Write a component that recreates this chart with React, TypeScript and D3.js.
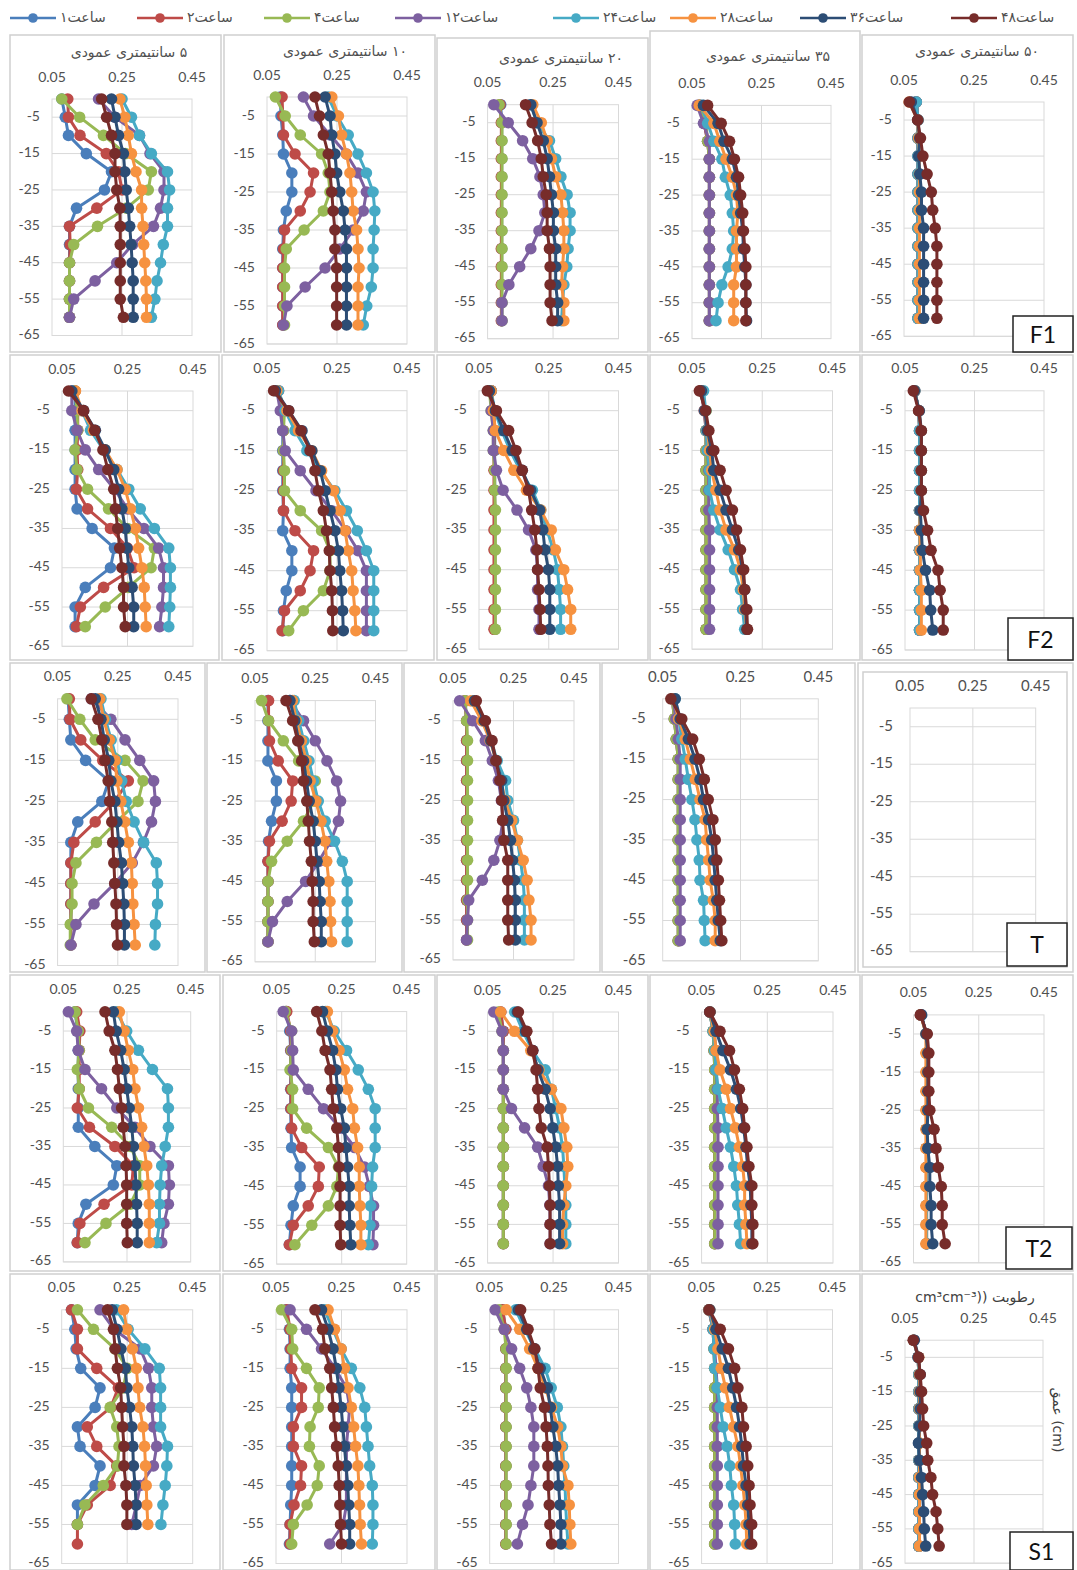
import { line, scaleLinear } from "d3";

// depth of each reading (cm), shared by every panel
const depths = [0, -5, -10, -15, -20, -25, -30, -35, -40, -45, -50, -55, -60];
const xTicks = [0.05, 0.25, 0.45];
const yTicks = [-5, -15, -25, -35, -45, -55, -65];

const seriesLabels = ["۱", "۲", "۴", "۱۲", "۲۴", "۲۸", "۳۶", "۴۸"];
const seriesColors = ["#4a7ebb", "#be4b48", "#98b954", "#7d60a0", "#46aac5", "#f69240", "#2c4d75", "#772c2a"];

type Series = (number | null)[];

// ---- F1 ----
const f1Cm5: Series[] = [
  [0.078, 0.088, 0.097, 0.148, 0.22, 0.2, 0.12, 0.1, 0.1, 0.1, 0.1, 0.1, 0.1],
  [0.095, 0.097, 0.13, 0.205, 0.24, 0.25, 0.178, 0.1, 0.102, 0.1, 0.1, 0.1, 0.1],
  [0.078, 0.129, 0.197, 0.26, 0.334, 0.325, 0.263, 0.18, 0.112, 0.1, 0.1, 0.1, 0.1],
  [0.183, 0.23, 0.3, 0.33, 0.37, 0.37, 0.36, 0.34, 0.28, 0.235, 0.173, 0.112, 0.1],
  [0.25, 0.277, 0.3, 0.334, 0.38, 0.386, 0.38, 0.38, 0.368, 0.36, 0.35, 0.344, 0.334],
  [0.244, 0.258, 0.268, 0.277, 0.29, 0.306, 0.306, 0.31, 0.312, 0.315, 0.318, 0.32, 0.32],
  [0.22, 0.23, 0.24, 0.254, 0.258, 0.262, 0.268, 0.272, 0.276, 0.279, 0.282, 0.282, 0.282],
  [0.192, 0.206, 0.22, 0.23, 0.23, 0.235, 0.244, 0.245, 0.245, 0.245, 0.245, 0.245, 0.254],
];
const f1Cm10: Series[] = [
  [0.088, 0.09, 0.095, 0.097, 0.121, 0.121, 0.105, 0.097, 0.095, 0.095, 0.095, 0.095, 0.095],
  [0.093, 0.095, 0.097, 0.13, 0.183, 0.173, 0.145, 0.1, 0.097, 0.095, 0.095, 0.095, 0.095],
  [0.074, 0.102, 0.145, 0.206, 0.225, 0.23, 0.211, 0.156, 0.105, 0.1, 0.1, 0.1, 0.1],
  [0.154, 0.183, 0.23, 0.277, 0.31, 0.334, 0.325, 0.296, 0.258, 0.216, 0.159, 0.107, 0.097],
  [0.225, 0.25, 0.282, 0.31, 0.334, 0.353, 0.358, 0.356, 0.353, 0.353, 0.348, 0.335, 0.325],
  [0.235, 0.254, 0.263, 0.277, 0.287, 0.292, 0.296, 0.306, 0.31, 0.313, 0.31, 0.31, 0.31],
  [0.216, 0.23, 0.235, 0.244, 0.249, 0.258, 0.268, 0.273, 0.277, 0.277, 0.277, 0.277, 0.277],
  [0.187, 0.2, 0.211, 0.225, 0.23, 0.235, 0.239, 0.244, 0.244, 0.249, 0.249, 0.249, 0.249],
];
const f1Cm20: Series[] = [
  [0.09, 0.093, 0.093, 0.093, 0.093, 0.093, 0.093, 0.093, 0.093, 0.093, 0.093, 0.093, 0.093],
  [0.088, 0.092, 0.092, 0.092, 0.092, 0.092, 0.092, 0.092, 0.092, 0.092, 0.092, 0.092, 0.092],
  [0.085, 0.094, 0.094, 0.094, 0.094, 0.094, 0.094, 0.094, 0.094, 0.094, 0.094, 0.094, 0.094],
  [0.069, 0.113, 0.157, 0.188, 0.21, 0.22, 0.225, 0.207, 0.182, 0.148, 0.115, 0.094, 0.094],
  [0.182, 0.201, 0.239, 0.258, 0.274, 0.293, 0.302, 0.302, 0.296, 0.292, 0.283, 0.279, 0.276],
  [0.188, 0.214, 0.232, 0.245, 0.258, 0.274, 0.279, 0.283, 0.283, 0.279, 0.276, 0.283, 0.283],
  [0.182, 0.201, 0.22, 0.232, 0.239, 0.245, 0.251, 0.251, 0.258, 0.258, 0.258, 0.264, 0.264],
  [0.166, 0.186, 0.203, 0.214, 0.22, 0.229, 0.232, 0.232, 0.239, 0.241, 0.241, 0.241, 0.247],
];
const f1Cm35: Series[] = [
  [0.072, 0.085, 0.095, 0.1, 0.1, 0.1, 0.1, 0.1, 0.1, 0.1, 0.1, 0.1, 0.1],
  [0.072, 0.085, 0.095, 0.1, 0.1, 0.1, 0.1, 0.1, 0.1, 0.1, 0.1, 0.1, 0.1],
  [0.07, 0.09, 0.095, 0.1, 0.1, 0.1, 0.1, 0.1, 0.1, 0.1, 0.1, 0.1, 0.1],
  [0.065, 0.083, 0.1, 0.1, 0.1, 0.1, 0.1, 0.1, 0.1, 0.1, 0.1, 0.1, 0.1],
  [0.077, 0.095, 0.113, 0.136, 0.146, 0.16, 0.166, 0.17, 0.166, 0.154, 0.136, 0.125, 0.119],
  [0.071, 0.113, 0.13, 0.148, 0.166, 0.178, 0.182, 0.178, 0.178, 0.178, 0.17, 0.17, 0.17],
  [0.083, 0.125, 0.142, 0.166, 0.178, 0.184, 0.19, 0.196, 0.198, 0.202, 0.205, 0.205, 0.207],
  [0.095, 0.134, 0.158, 0.172, 0.184, 0.19, 0.196, 0.198, 0.202, 0.205, 0.205, 0.205, 0.205],
];
const f1Cm50: Series[] = [
  [0.085, 0.09, 0.09, 0.09, 0.09, 0.09, 0.09, 0.09, 0.09, 0.09, 0.09, 0.09, 0.09],
  [0.085, 0.09, 0.09, 0.09, 0.09, 0.09, 0.09, 0.09, 0.09, 0.09, 0.09, 0.09, 0.09],
  [0.085, 0.09, 0.09, 0.09, 0.09, 0.09, 0.09, 0.09, 0.09, 0.09, 0.09, 0.09, 0.09],
  [0.085, 0.09, 0.09, 0.09, 0.09, 0.09, 0.09, 0.09, 0.09, 0.09, 0.09, 0.09, 0.09],
  [0.085, 0.09, 0.09, 0.09, 0.09, 0.09, 0.09, 0.09, 0.09, 0.09, 0.09, 0.09, 0.09],
  [0.065, 0.089, 0.092, 0.094, 0.094, 0.094, 0.094, 0.094, 0.094, 0.094, 0.094, 0.094, 0.094],
  [0.071, 0.089, 0.095, 0.092, 0.095, 0.1, 0.1, 0.106, 0.106, 0.106, 0.106, 0.106, 0.106],
  [0.065, 0.089, 0.097, 0.104, 0.116, 0.128, 0.132, 0.139, 0.144, 0.144, 0.144, 0.144, 0.144],
];

// ---- F2 ----
const f2Cm5: Series[] = [
  [0.09, 0.09, 0.09, 0.09, 0.09, 0.09, 0.096, 0.142, 0.21, 0.198, 0.121, 0.09, 0.09],
  [0.09, 0.098, 0.098, 0.096, 0.098, 0.094, 0.128, 0.198, 0.25, 0.27, 0.177, 0.106, 0.094],
  [0.09, 0.096, 0.098, 0.09, 0.096, 0.128, 0.192, 0.25, 0.332, 0.322, 0.253, 0.182, 0.121],
  [0.08, 0.08, 0.096, 0.121, 0.162, 0.21, 0.25, 0.3, 0.345, 0.36, 0.36, 0.355, 0.348],
  [0.086, 0.111, 0.137, 0.177, 0.218, 0.254, 0.289, 0.332, 0.376, 0.381, 0.381, 0.379, 0.376],
  [0.091, 0.111, 0.146, 0.182, 0.218, 0.243, 0.259, 0.274, 0.284, 0.294, 0.301, 0.304, 0.307],
  [0.08, 0.116, 0.152, 0.182, 0.208, 0.223, 0.233, 0.243, 0.248, 0.254, 0.264, 0.269, 0.269],
  [0.07, 0.116, 0.15, 0.175, 0.19, 0.208, 0.213, 0.22, 0.226, 0.233, 0.238, 0.238, 0.243],
];
const f2Cm10: Series[] = [
  [0.078, 0.093, 0.095, 0.095, 0.095, 0.095, 0.097, 0.095, 0.121, 0.121, 0.105, 0.097, 0.095],
  [0.083, 0.097, 0.097, 0.097, 0.097, 0.097, 0.097, 0.13, 0.183, 0.173, 0.145, 0.1, 0.093],
  [0.078, 0.1, 0.097, 0.097, 0.1, 0.1, 0.145, 0.206, 0.23, 0.23, 0.211, 0.154, 0.112],
  [0.078, 0.088, 0.095, 0.102, 0.145, 0.19, 0.235, 0.275, 0.31, 0.334, 0.334, 0.334, 0.334],
  [0.083, 0.102, 0.13, 0.164, 0.202, 0.244, 0.277, 0.308, 0.334, 0.355, 0.355, 0.355, 0.355],
  [0.078, 0.107, 0.14, 0.178, 0.206, 0.24, 0.259, 0.273, 0.282, 0.292, 0.296, 0.301, 0.304],
  [0.074, 0.112, 0.15, 0.178, 0.202, 0.216, 0.23, 0.244, 0.254, 0.258, 0.263, 0.266, 0.268],
  [0.069, 0.112, 0.147, 0.173, 0.187, 0.197, 0.211, 0.22, 0.228, 0.23, 0.235, 0.237, 0.238],
];
const f2Cm20: Series[] = [
  [0.085, 0.093, 0.095, 0.095, 0.095, 0.095, 0.095, 0.095, 0.095, 0.095, 0.095, 0.095, 0.095],
  [0.085, 0.092, 0.093, 0.093, 0.093, 0.093, 0.093, 0.093, 0.093, 0.093, 0.093, 0.093, 0.093],
  [0.08, 0.085, 0.091, 0.091, 0.095, 0.095, 0.097, 0.097, 0.097, 0.097, 0.097, 0.097, 0.097],
  [0.085, 0.085, 0.091, 0.091, 0.1, 0.119, 0.159, 0.192, 0.213, 0.218, 0.218, 0.222, 0.222],
  [0.085, 0.095, 0.115, 0.139, 0.168, 0.203, 0.227, 0.245, 0.263, 0.275, 0.28, 0.284, 0.284],
  [0.085, 0.091, 0.097, 0.121, 0.15, 0.186, 0.227, 0.257, 0.269, 0.293, 0.304, 0.313, 0.313],
  [0.08, 0.097, 0.121, 0.145, 0.174, 0.198, 0.224, 0.233, 0.239, 0.249, 0.253, 0.253, 0.253],
  [0.074, 0.1, 0.135, 0.156, 0.174, 0.192, 0.201, 0.21, 0.216, 0.218, 0.222, 0.225, 0.227],
];
const f2Cm35: Series[] = [
  [0.075, 0.085, 0.09, 0.09, 0.09, 0.09, 0.09, 0.09, 0.09, 0.09, 0.09, 0.09, 0.09],
  [0.075, 0.085, 0.09, 0.09, 0.09, 0.09, 0.09, 0.09, 0.09, 0.09, 0.09, 0.09, 0.09],
  [0.075, 0.09, 0.09, 0.09, 0.09, 0.09, 0.09, 0.09, 0.09, 0.09, 0.09, 0.09, 0.09],
  [0.077, 0.086, 0.091, 0.094, 0.098, 0.098, 0.098, 0.1, 0.1, 0.1, 0.1, 0.1, 0.1],
  [0.083, 0.089, 0.091, 0.094, 0.1, 0.1, 0.112, 0.13, 0.153, 0.171, 0.188, 0.194, 0.2],
  [0.077, 0.086, 0.094, 0.1, 0.106, 0.118, 0.13, 0.147, 0.171, 0.188, 0.196, 0.2, 0.206],
  [0.077, 0.086, 0.094, 0.106, 0.112, 0.13, 0.147, 0.165, 0.183, 0.194, 0.2, 0.203, 0.206],
  [0.071, 0.089, 0.098, 0.112, 0.13, 0.147, 0.165, 0.177, 0.188, 0.197, 0.2, 0.206, 0.208],
];
const f2Cm50: Series[] = [
  [0.078, 0.09, 0.092, 0.092, 0.092, 0.092, 0.092, 0.092, 0.092, 0.092, 0.092, 0.092, 0.092],
  [0.078, 0.09, 0.092, 0.092, 0.092, 0.092, 0.092, 0.092, 0.092, 0.092, 0.092, 0.092, 0.092],
  [0.078, 0.09, 0.092, 0.092, 0.092, 0.092, 0.092, 0.092, 0.092, 0.092, 0.092, 0.092, 0.092],
  [0.078, 0.09, 0.092, 0.092, 0.092, 0.092, 0.092, 0.092, 0.092, 0.092, 0.092, 0.092, 0.092],
  [0.078, 0.09, 0.092, 0.092, 0.092, 0.092, 0.092, 0.092, 0.092, 0.092, 0.092, 0.092, 0.092],
  [0.077, 0.09, 0.097, 0.097, 0.097, 0.097, 0.094, 0.092, 0.094, 0.094, 0.097, 0.097, 0.097],
  [0.077, 0.091, 0.097, 0.097, 0.097, 0.097, 0.094, 0.097, 0.1, 0.109, 0.121, 0.124, 0.13],
  [0.074, 0.089, 0.097, 0.097, 0.097, 0.097, 0.103, 0.115, 0.125, 0.145, 0.151, 0.16, 0.16],
];

// ---- T ----
const tCm5: Series[] = [
  [0.085, 0.089, 0.094, 0.143, 0.22, 0.197, 0.117, 0.094, 0.094, 0.094, 0.094, 0.094, 0.094],
  [0.089, 0.091, 0.127, 0.2, 0.285, 0.24, 0.175, 0.104, 0.094, 0.094, 0.094, 0.094, 0.094],
  [0.081, 0.124, 0.175, 0.274, 0.334, 0.317, 0.246, 0.179, 0.111, 0.098, 0.098, 0.092, 0.092],
  [0.162, 0.227, 0.274, 0.323, 0.369, 0.375, 0.362, 0.335, 0.298, 0.24, 0.171, 0.111, 0.094],
  [0.194, 0.209, 0.228, 0.247, 0.263, 0.278, 0.304, 0.336, 0.378, 0.382, 0.382, 0.375, 0.373],
  [0.19, 0.203, 0.222, 0.241, 0.247, 0.26, 0.273, 0.285, 0.295, 0.298, 0.3, 0.304, 0.308],
  [0.175, 0.194, 0.205, 0.22, 0.227, 0.24, 0.247, 0.253, 0.262, 0.266, 0.27, 0.272, 0.272],
  [0.162, 0.184, 0.197, 0.207, 0.218, 0.223, 0.23, 0.233, 0.237, 0.24, 0.244, 0.246, 0.249],
];
const tCm10: Series[] = [
  [0.093, 0.093, 0.093, 0.093, 0.121, 0.121, 0.105, 0.095, 0.093, 0.093, 0.093, 0.093, 0.093],
  [0.095, 0.095, 0.098, 0.127, 0.175, 0.17, 0.14, 0.098, 0.093, 0.093, 0.093, 0.093, 0.093],
  [0.072, 0.095, 0.144, 0.195, 0.25, 0.245, 0.211, 0.157, 0.105, 0.093, 0.093, 0.093, 0.093],
  [0.166, 0.211, 0.25, 0.289, 0.321, 0.334, 0.327, 0.301, 0.262, 0.218, 0.157, 0.108, 0.093],
  [0.18, 0.195, 0.212, 0.229, 0.244, 0.26, 0.283, 0.314, 0.34, 0.356, 0.356, 0.356, 0.356],
  [0.174, 0.187, 0.204, 0.22, 0.233, 0.252, 0.269, 0.282, 0.288, 0.295, 0.299, 0.301, 0.304],
  [0.166, 0.182, 0.195, 0.211, 0.221, 0.23, 0.243, 0.25, 0.256, 0.263, 0.266, 0.27, 0.27],
  [0.153, 0.175, 0.192, 0.205, 0.211, 0.222, 0.227, 0.231, 0.237, 0.24, 0.243, 0.243, 0.247],
];
const tCm20: Series[] = [
  [0.09, 0.095, 0.095, 0.095, 0.095, 0.095, 0.095, 0.095, 0.095, 0.095, 0.095, 0.095, 0.095],
  [0.089, 0.095, 0.095, 0.095, 0.095, 0.095, 0.095, 0.095, 0.095, 0.095, 0.095, 0.095, 0.095],
  [0.09, 0.095, 0.098, 0.098, 0.098, 0.098, 0.098, 0.098, 0.098, 0.098, 0.098, 0.098, 0.098],
  [0.072, 0.115, 0.157, 0.18, 0.2, 0.21, 0.215, 0.205, 0.185, 0.147, 0.102, 0.098, 0.095],
  [0.115, 0.147, 0.176, 0.196, 0.224, 0.231, 0.25, 0.263, 0.273, 0.282, 0.286, 0.286, 0.286],
  [0.109, 0.145, 0.173, 0.192, 0.209, 0.222, 0.244, 0.263, 0.282, 0.295, 0.301, 0.308, 0.308],
  [0.121, 0.153, 0.175, 0.192, 0.211, 0.218, 0.231, 0.24, 0.247, 0.253, 0.256, 0.256, 0.256],
  [0.127, 0.157, 0.179, 0.192, 0.205, 0.211, 0.214, 0.218, 0.231, 0.231, 0.231, 0.231, 0.234],
];
const tCm35: Series[] = [
  [0.075, 0.08, 0.085, 0.09, 0.09, 0.09, 0.09, 0.09, 0.09, 0.09, 0.09, 0.09, 0.09],
  [0.075, 0.08, 0.085, 0.09, 0.09, 0.09, 0.09, 0.09, 0.09, 0.09, 0.09, 0.09, 0.09],
  [0.075, 0.08, 0.085, 0.09, 0.09, 0.09, 0.09, 0.09, 0.09, 0.09, 0.09, 0.09, 0.09],
  [0.077, 0.084, 0.09, 0.095, 0.095, 0.095, 0.095, 0.095, 0.095, 0.095, 0.095, 0.095, 0.095],
  [0.082, 0.091, 0.099, 0.108, 0.116, 0.125, 0.133, 0.138, 0.144, 0.146, 0.155, 0.157, 0.159],
  [0.078, 0.091, 0.108, 0.121, 0.134, 0.146, 0.159, 0.163, 0.168, 0.172, 0.18, 0.185, 0.185],
  [0.082, 0.095, 0.116, 0.133, 0.146, 0.155, 0.168, 0.176, 0.181, 0.185, 0.189, 0.193, 0.198],
  [0.071, 0.099, 0.127, 0.144, 0.157, 0.167, 0.179, 0.185, 0.189, 0.193, 0.196, 0.199, 0.202],
];

// ---- T2 ----
const t2Cm5: Series[] = [
  [0.087, 0.095, 0.097, 0.097, 0.097, 0.097, 0.097, 0.149, 0.218, 0.207, 0.121, 0.097, 0.094],
  [0.092, 0.102, 0.1, 0.1, 0.1, 0.094, 0.132, 0.212, 0.27, 0.265, 0.178, 0.102, 0.094],
  [0.087, 0.097, 0.1, 0.094, 0.1, 0.129, 0.202, 0.26, 0.29, 0.29, 0.26, 0.184, 0.118],
  [0.066, 0.092, 0.097, 0.118, 0.17, 0.218, 0.275, 0.322, 0.38, 0.383, 0.38, 0.366, 0.359],
  [0.217, 0.249, 0.286, 0.33, 0.377, 0.38, 0.38, 0.37, 0.359, 0.354, 0.352, 0.352, 0.343],
  [0.226, 0.241, 0.254, 0.268, 0.275, 0.286, 0.296, 0.303, 0.312, 0.317, 0.32, 0.32, 0.32],
  [0.207, 0.216, 0.23, 0.241, 0.249, 0.257, 0.265, 0.27, 0.275, 0.278, 0.28, 0.282, 0.282],
  [0.181, 0.194, 0.212, 0.22, 0.226, 0.233, 0.238, 0.244, 0.247, 0.249, 0.249, 0.249, 0.251],
];
const t2Cm10: Series[] = [
  [0.079, 0.09, 0.093, 0.093, 0.093, 0.093, 0.094, 0.096, 0.122, 0.122, 0.101, 0.094, 0.089],
  [0.081, 0.093, 0.094, 0.094, 0.094, 0.094, 0.096, 0.127, 0.181, 0.178, 0.147, 0.101, 0.089],
  [0.076, 0.096, 0.096, 0.091, 0.099, 0.099, 0.142, 0.209, 0.24, 0.235, 0.209, 0.158, 0.106],
  [0.07, 0.096, 0.099, 0.101, 0.147, 0.194, 0.245, 0.29, 0.32, 0.335, 0.348, 0.348, 0.346],
  [0.201, 0.227, 0.265, 0.301, 0.332, 0.353, 0.353, 0.353, 0.345, 0.342, 0.339, 0.337, 0.332],
  [0.206, 0.222, 0.242, 0.258, 0.268, 0.284, 0.289, 0.299, 0.304, 0.304, 0.306, 0.309, 0.309],
  [0.191, 0.206, 0.222, 0.232, 0.237, 0.247, 0.258, 0.263, 0.268, 0.273, 0.273, 0.275, 0.278],
  [0.173, 0.189, 0.199, 0.214, 0.219, 0.224, 0.235, 0.24, 0.242, 0.245, 0.245, 0.245, 0.247],
];
const t2Cm20: Series[] = [
  [0.09, 0.098, 0.098, 0.098, 0.098, 0.098, 0.098, 0.098, 0.098, 0.098, 0.098, 0.098, 0.098],
  [0.09, 0.098, 0.098, 0.098, 0.098, 0.098, 0.098, 0.098, 0.098, 0.098, 0.098, 0.098, 0.098],
  [0.082, 0.094, 0.098, 0.098, 0.098, 0.098, 0.098, 0.098, 0.098, 0.098, 0.098, 0.098, 0.098],
  [0.069, 0.094, 0.098, 0.098, 0.098, 0.123, 0.163, 0.203, 0.22, 0.236, 0.24, 0.241, 0.241],
  [0.133, 0.158, 0.187, 0.226, 0.245, 0.258, 0.27, 0.279, 0.283, 0.286, 0.289, 0.289, 0.289],
  [0.09, 0.132, 0.182, 0.207, 0.245, 0.274, 0.283, 0.292, 0.295, 0.289, 0.283, 0.279, 0.279],
  [0.141, 0.166, 0.188, 0.204, 0.226, 0.241, 0.249, 0.258, 0.264, 0.266, 0.27, 0.27, 0.27],
  [0.144, 0.17, 0.188, 0.198, 0.203, 0.207, 0.214, 0.232, 0.236, 0.239, 0.241, 0.241, 0.241],
];
const t2Cm35: Series[] = [
  [0.075, 0.085, 0.088, 0.09, 0.09, 0.09, 0.09, 0.09, 0.09, 0.09, 0.09, 0.09, 0.09],
  [0.075, 0.085, 0.088, 0.09, 0.09, 0.09, 0.09, 0.09, 0.09, 0.09, 0.09, 0.09, 0.09],
  [0.075, 0.085, 0.088, 0.09, 0.09, 0.09, 0.09, 0.09, 0.09, 0.09, 0.09, 0.09, 0.09],
  [0.075, 0.088, 0.094, 0.094, 0.098, 0.098, 0.1, 0.1, 0.1, 0.1, 0.1, 0.1, 0.1],
  [0.075, 0.085, 0.09, 0.094, 0.1, 0.113, 0.125, 0.138, 0.148, 0.156, 0.16, 0.165, 0.169],
  [0.075, 0.088, 0.094, 0.106, 0.125, 0.138, 0.153, 0.165, 0.175, 0.181, 0.181, 0.185, 0.188],
  [0.075, 0.094, 0.115, 0.138, 0.156, 0.169, 0.178, 0.185, 0.19, 0.198, 0.2, 0.203, 0.203],
  [0.075, 0.106, 0.135, 0.15, 0.165, 0.175, 0.181, 0.188, 0.194, 0.203, 0.203, 0.206, 0.206],
];
const t2Cm50: Series[] = [
  [0.072, 0.09, 0.09, 0.09, 0.09, 0.09, 0.09, 0.09, 0.09, 0.09, 0.09, 0.09, 0.09],
  [0.072, 0.09, 0.09, 0.09, 0.09, 0.09, 0.09, 0.09, 0.09, 0.09, 0.09, 0.09, 0.09],
  [0.072, 0.09, 0.09, 0.09, 0.09, 0.09, 0.09, 0.09, 0.09, 0.09, 0.09, 0.09, 0.09],
  [0.072, 0.09, 0.09, 0.09, 0.09, 0.09, 0.09, 0.09, 0.09, 0.09, 0.09, 0.09, 0.09],
  [0.072, 0.09, 0.09, 0.09, 0.09, 0.09, 0.09, 0.09, 0.09, 0.09, 0.09, 0.09, 0.09],
  [0.072, 0.088, 0.088, 0.088, 0.088, 0.088, 0.088, 0.088, 0.088, 0.088, 0.088, 0.088, 0.088],
  [0.075, 0.088, 0.094, 0.094, 0.094, 0.094, 0.092, 0.094, 0.1, 0.1, 0.104, 0.104, 0.109],
  [0.071, 0.092, 0.097, 0.097, 0.097, 0.1, 0.113, 0.119, 0.126, 0.135, 0.138, 0.138, 0.147],
];

// ---- S1 ----
const s1Cm5: Series[] = [
  [0.08, 0.09, 0.094, 0.108, 0.167, 0.152, 0.098, 0.106, 0.167, 0.152, 0.098, 0.098, null],
  [0.08, 0.098, 0.098, 0.157, 0.223, 0.2, 0.128, 0.157, 0.218, 0.198, 0.128, 0.098, 0.098],
  [0.098, 0.147, 0.213, 0.25, 0.238, 0.198, 0.218, 0.225, 0.22, 0.177, 0.121, 0.098, null],
  [0.167, 0.21, 0.29, 0.315, 0.325, 0.325, 0.33, 0.34, 0.33, 0.29, 0.278, 0.264, null],
  [0.217, 0.253, 0.304, 0.348, 0.352, 0.352, 0.352, 0.373, 0.371, 0.366, 0.359, 0.353, null],
  [0.239, 0.249, 0.266, 0.278, 0.283, 0.288, 0.298, 0.303, 0.306, 0.308, 0.31, 0.313, null],
  [0.204, 0.219, 0.231, 0.244, 0.249, 0.257, 0.264, 0.267, 0.269, 0.274, 0.277, 0.277, null],
  [0.19, 0.208, 0.213, 0.22, 0.23, 0.233, 0.236, 0.24, 0.24, 0.246, 0.249, 0.249, null],
];
const s1Cm10: Series[] = [
  [0.081, 0.091, 0.093, 0.093, 0.098, 0.098, 0.098, 0.098, 0.098, 0.098, 0.095, 0.093, 0.091],
  [0.083, 0.093, 0.095, 0.098, 0.128, 0.128, 0.103, 0.103, 0.128, 0.125, 0.105, 0.093, 0.093],
  [0.067, 0.098, 0.101, 0.143, 0.182, 0.179, 0.154, 0.152, 0.182, 0.176, 0.145, 0.103, 0.098],
  [0.093, 0.143, 0.189, 0.23, 0.265, 0.275, 0.27, 0.265, 0.265, 0.265, 0.265, 0.255, 0.214],
  [0.198, 0.224, 0.249, 0.28, 0.306, 0.321, 0.326, 0.331, 0.336, 0.344, 0.346, 0.346, 0.344],
  [0.209, 0.229, 0.249, 0.259, 0.27, 0.28, 0.287, 0.293, 0.3, 0.303, 0.305, 0.307, 0.311],
  [0.189, 0.209, 0.224, 0.234, 0.242, 0.249, 0.254, 0.259, 0.264, 0.269, 0.272, 0.275, 0.275],
  [0.169, 0.192, 0.199, 0.214, 0.22, 0.225, 0.229, 0.235, 0.24, 0.243, 0.245, 0.247, 0.25],
];
const s1Cm20: Series[] = [
  [0.09, 0.1, 0.1, 0.1, 0.1, 0.1, 0.1, 0.1, 0.1, 0.1, 0.1, 0.1, 0.1],
  [0.09, 0.1, 0.1, 0.1, 0.1, 0.1, 0.1, 0.1, 0.1, 0.1, 0.1, 0.1, 0.1],
  [0.079, 0.095, 0.101, 0.101, 0.101, 0.101, 0.101, 0.101, 0.101, 0.101, 0.101, 0.101, 0.101],
  [0.067, 0.095, 0.118, 0.143, 0.165, 0.178, 0.187, 0.187, 0.187, 0.178, 0.169, 0.152, 0.136],
  [0.131, 0.159, 0.19, 0.222, 0.241, 0.26, 0.271, 0.276, 0.28, 0.284, 0.286, 0.289, 0.293],
  [0.101, 0.143, 0.174, 0.2, 0.223, 0.242, 0.261, 0.271, 0.276, 0.293, 0.297, 0.299, 0.302],
  [0.139, 0.165, 0.187, 0.207, 0.229, 0.238, 0.246, 0.255, 0.261, 0.264, 0.268, 0.271, 0.271],
  [0.146, 0.169, 0.19, 0.2, 0.207, 0.22, 0.225, 0.229, 0.231, 0.232, 0.235, 0.237, 0.242],
];
const s1Cm35: Series[] = [
  [0.072, 0.085, 0.088, 0.09, 0.09, 0.09, 0.09, 0.09, 0.09, 0.09, 0.09, 0.09, 0.09],
  [0.072, 0.085, 0.088, 0.09, 0.09, 0.09, 0.09, 0.09, 0.09, 0.09, 0.09, 0.09, 0.09],
  [0.072, 0.085, 0.088, 0.09, 0.09, 0.09, 0.09, 0.09, 0.09, 0.09, 0.09, 0.09, 0.09],
  [0.073, 0.085, 0.09, 0.094, 0.098, 0.098, 0.098, 0.098, 0.098, 0.098, 0.098, 0.098, 0.098],
  [0.075, 0.085, 0.088, 0.09, 0.098, 0.107, 0.116, 0.128, 0.136, 0.141, 0.148, 0.151, 0.153],
  [0.075, 0.09, 0.1, 0.11, 0.123, 0.135, 0.148, 0.161, 0.169, 0.176, 0.182, 0.186, 0.188],
  [0.075, 0.094, 0.113, 0.132, 0.145, 0.157, 0.166, 0.173, 0.178, 0.186, 0.191, 0.195, 0.198],
  [0.073, 0.107, 0.132, 0.151, 0.161, 0.173, 0.178, 0.186, 0.191, 0.195, 0.198, 0.203, 0.203],
];
const s1Cm50: Series[] = [
  [0.075, 0.088, 0.09, 0.09, 0.09, 0.09, 0.09, 0.09, 0.09, 0.09, 0.09, 0.09, 0.09],
  [0.075, 0.088, 0.09, 0.09, 0.09, 0.09, 0.09, 0.09, 0.09, 0.09, 0.09, 0.09, 0.09],
  [0.075, 0.088, 0.09, 0.09, 0.09, 0.09, 0.09, 0.09, 0.09, 0.09, 0.09, 0.09, 0.09],
  [0.075, 0.088, 0.09, 0.09, 0.09, 0.09, 0.09, 0.09, 0.09, 0.09, 0.09, 0.09, 0.09],
  [0.075, 0.088, 0.09, 0.09, 0.09, 0.09, 0.09, 0.09, 0.09, 0.09, 0.09, 0.09, 0.09],
  [0.075, 0.09, 0.092, 0.092, 0.092, 0.092, 0.092, 0.092, 0.092, 0.092, 0.092, 0.092, 0.092],
  [0.077, 0.089, 0.094, 0.094, 0.094, 0.092, 0.089, 0.092, 0.098, 0.101, 0.104, 0.106, 0.11],
  [0.074, 0.089, 0.094, 0.098, 0.101, 0.104, 0.113, 0.116, 0.125, 0.13, 0.14, 0.145, 0.149],
];

const columnTitles = [
  "۵ سانتیمتری عمودی",
  "۱۰ سانتیمتری عمودی",
  "۲۰ سانتیمتری عمودی",
  "۳۵ سانتیمتری عمودی",
  "۵۰ سانتیمتری عمودی",
];

type PanelSpec = {
  data: Series[] | null;
  frame: [number, number, number, number];
  plot: [number, number, number, number]; // x of 0.05, x of 0.45, y of 0, y of -65
  title?: [string, number, number];
  big?: boolean;
};

const panels: PanelSpec[] = [
  // row F1
  { data: f1Cm5, frame: [10, 35, 211, 317], plot: [52, 192, 99, 335.5], title: [columnTitles[0], 129, 53] },
  { data: f1Cm10, frame: [224, 35, 211, 317], plot: [267, 407, 97, 344], title: [columnTitles[1], 345, 52] },
  { data: f1Cm20, frame: [437, 38, 211, 314], plot: [487.6, 618.5, 104.7, 338.7], title: [columnTitles[2], 561, 59] },
  { data: f1Cm35, frame: [650, 31, 210, 321], plot: [692, 831, 105.4, 338.6], title: [columnTitles[3], 768, 57] },
  { data: f1Cm50, frame: [862, 35, 211, 317], plot: [904, 1044, 102, 336.3], title: [columnTitles[4], 977, 52] },
  // row F2
  { data: f2Cm5, frame: [10, 355, 209, 305], plot: [62, 193, 391, 646.3] },
  { data: f2Cm10, frame: [222, 355, 212, 305], plot: [267, 407, 390.7, 650.7] },
  { data: f2Cm20, frame: [437, 355, 211, 305], plot: [479, 618.5, 390.8, 649.2] },
  { data: f2Cm35, frame: [650, 355, 210, 305], plot: [692, 832.5, 390.8, 649.2] },
  { data: f2Cm50, frame: [862, 355, 211, 305], plot: [905, 1044, 390.8, 650] },
  // row T
  { data: tCm5, frame: [10, 663, 195, 309], plot: [57.6, 178, 698.8, 965.5] },
  { data: tCm10, frame: [207, 663, 195, 309], plot: [255, 375.5, 700.6, 961.8] },
  { data: tCm20, frame: [404, 663, 196, 309], plot: [453, 574, 700.8, 959.9] },
  { data: tCm35, frame: [602, 663, 253, 309], plot: [662.7, 818.3, 698.8, 960.8], big: true },
  { data: null, frame: [863, 672, 204, 295], plot: [910, 1035.7, 708, 951.7], big: true },
  // row T2
  { data: t2Cm5, frame: [10, 975, 210, 296], plot: [63.3, 190.7, 1011.8, 1261.9] },
  { data: t2Cm10, frame: [223, 975, 212, 296], plot: [276.7, 406.7, 1011.6, 1264.1] },
  { data: t2Cm20, frame: [437, 975, 211, 296], plot: [487.6, 618.5, 1012, 1263] },
  { data: t2Cm35, frame: [650, 975, 210, 296], plot: [701.6, 833, 1012, 1263] },
  { data: t2Cm50, frame: [862, 975, 211, 296], plot: [913.5, 1044, 1014.9, 1262.8] },
  // row S1
  { data: s1Cm5, frame: [10, 1274, 210, 296], plot: [61.7, 192.7, 1309.8, 1563.5] },
  { data: s1Cm10, frame: [223, 1274, 212, 296], plot: [276, 407, 1309.8, 1563.5] },
  { data: s1Cm20, frame: [437, 1274, 211, 296], plot: [489.7, 618.5, 1309.8, 1563.5] },
  { data: s1Cm35, frame: [650, 1274, 210, 296], plot: [701.6, 832.5, 1309.8, 1563.5] },
  { data: s1Cm50, frame: [862, 1274, 211, 296], plot: [905, 1043, 1340.2, 1563.2] },
];

const tagLabels: [string, number, number, number, number][] = [
  ["F1", 1013, 316, 60, 36],
  ["F2", 1008, 618, 65, 42],
  ["T", 1007, 923, 60, 43],
  ["T2", 1006, 1227, 66, 42],
  ["S1", 1010, 1532, 63, 38],
];

const legendX = [10, 137, 264, 395, 553, 670, 800, 951];

const numFont = "Lato, 'Liberation Sans', sans-serif";
const faFont = "'DejaVu Sans', sans-serif";
const textGrey = "#505050";
const gridGrey = "#d9d9d9";

function Panel({ p }: { p: PanelSpec }) {
  const [fx, fy, fw, fh] = p.frame;
  const [x0, x1, y0, y1] = p.plot;
  const x = scaleLinear().domain([0.05, 0.45]).range([x0, x1]);
  const y = scaleLinear().domain([0, -65]).range([y0, y1]);
  const path = line<number | null>()
    .defined((v) => v != null)
    .x((v) => x(v as number))
    .y((_, i) => y(depths[i]));
  const fs = p.big ? 15 : 14;

  return (
    <g>
      <rect x={fx} y={fy} width={fw} height={fh} fill="white" stroke="#cfcfcf" strokeWidth={1.5} />
      {p.title && (
        <text x={p.title[1]} y={p.title[2]} textAnchor="middle" dominantBaseline="middle"
          style={{ direction: "rtl" }} fontFamily={faFont} fontSize={14} fill={textGrey}>
          {p.title[0]}
        </text>
      )}
      {yTicks.map((t) => (
        <line key={t} x1={x(0.05)} x2={x(0.45)} y1={y(t)} y2={y(t)} stroke={gridGrey} />
      ))}
      <line x1={x(0.25)} x2={x(0.25)} y1={y(0)} y2={y(-65)} stroke={gridGrey} />
      <rect x={x(0.05)} y={y(0)} width={x(0.45) - x(0.05)} height={y(-65) - y(0)}
        fill="none" stroke={gridGrey} />
      {xTicks.map((t) => (
        <text key={t} x={x(t)} y={y(0) - 21} textAnchor="middle" dominantBaseline="middle"
          fontFamily={numFont} fontSize={fs} fill={textGrey}>
          {t.toFixed(2)}
        </text>
      ))}
      {yTicks.map((t) => (
        <text key={t} x={x(0.05) - (p.big ? 17 : 12)} y={y(t)} textAnchor="end" dominantBaseline="middle"
          fontFamily={numFont} fontSize={fs} fill={textGrey}>
          {t}
        </text>
      ))}
      {p.data &&
        p.data.map((s, si) => (
          <g key={si}>
            <path d={path(s) ?? ""} fill="none" stroke={seriesColors[si]} strokeWidth={3} />
            {s.map((v, i) =>
              v == null ? null : (
                <circle key={i} cx={x(v)} cy={y(depths[i])} r={5.8} fill={seriesColors[si]} />
              ),
            )}
          </g>
        ))}
    </g>
  );
}

export default function App() {
  return (
    <svg width={1077} height={1570} viewBox="0 0 1077 1570"
      style={{ position: "absolute", left: 0, top: 0, background: "white" }}>
      <rect x={0} y={0} width={1077} height={1570} fill="white" />
      {/* legend */}
      {seriesLabels.map((lab, i) => (
        <g key={lab}>
          <line x1={legendX[i]} x2={legendX[i] + 46} y1={18} y2={18} stroke={seriesColors[i]} strokeWidth={2.5} />
          <circle cx={legendX[i] + 23} cy={18} r={4.8} fill={seriesColors[i]} />
          <text x={legendX[i] + 50} y={18} dominantBaseline="middle" fontFamily={faFont} fontSize={14} fill={textGrey}>
            {`${lab}ساعت`}
          </text>
        </g>
      ))}
      {/* outer cell of the empty T panel */}
      <rect x={858} y={663} width={215} height={309} fill="white" stroke="#cfcfcf" strokeWidth={1.5} />
      {panels.map((p, i) => (
        <Panel key={i} p={p} />
      ))}
      {/* axis titles of the last panel */}
      <text x={975} y={1298} textAnchor="middle" dominantBaseline="middle" style={{ direction: "rtl" }}
        fontFamily={faFont} fontSize={14} fill="#404040">
        رطوبت ((cm³cm⁻³
      </text>
      <text transform="translate(1057,1420) rotate(90)" textAnchor="middle" dominantBaseline="middle"
        fontFamily={faFont} fontSize={14} fill="#404040">
        عمق (cm)
      </text>
      {tagLabels.map(([lab, bx, by, bw, bh]) => (
        <g key={lab}>
          <rect x={bx} y={by} width={bw} height={bh} fill="white" stroke="#222" strokeWidth={1.5} />
          <text x={bx + bw / 2} y={by + bh / 2 + 3} textAnchor="middle" dominantBaseline="middle"
            fontFamily={numFont} fontSize={23} fill="#111">
            {lab}
          </text>
        </g>
      ))}
    </svg>
  );
}
